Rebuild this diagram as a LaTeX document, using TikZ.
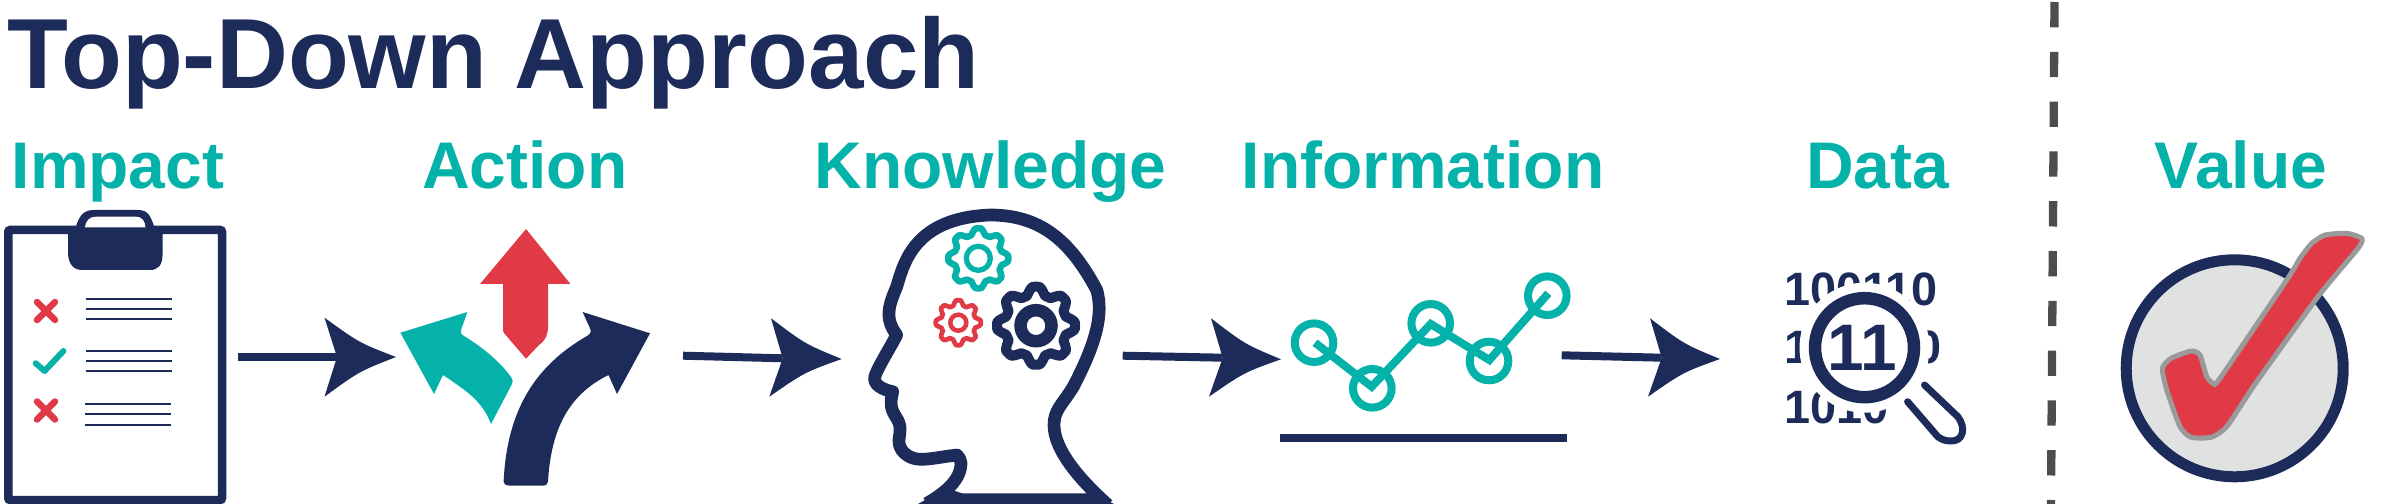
\documentclass[tikz,border=0pt]{standalone}
\usepackage{fontspec}
\setmainfont{Liberation Sans}[BoldFont={Liberation Sans Bold}]
\usetikzlibrary{calc}
\definecolor{navy}{HTML}{1D2B5A}
\definecolor{teal2}{HTML}{04B2AA}
\definecolor{red2}{HTML}{E03A47}
\definecolor{dashgray}{HTML}{4D4D4D}
\definecolor{discgray}{HTML}{E0E2E1}
\definecolor{rimgray}{HTML}{9A9A9A}
\tikzset{
  titletext/.style={anchor=base west,inner sep=0pt,text=navy,font=\fontsize{100}{110}\selectfont\bfseries},
  steplabel/.style={anchor=base west,inner sep=0pt,text=teal2,font=\fontsize{66.2}{70}\selectfont\bfseries},
  bits/.style={anchor=base west,inner sep=0pt,text=navy,font=\fontsize{47}{50}\selectfont\bfseries},
  bigbits/.style={anchor=base west,inner sep=0pt,text=navy,font=\fontsize{66}{70}\selectfont\bfseries},
  shaft/.style={draw=navy,line width=8bp},
  listline/.style={draw=navy,line width=2.2bp},
  mark red/.style={draw=red2,line width=6.5bp,line cap=round},
  headline/.style={draw=navy,line width=12.7bp,line join=round},
}
% arrow head: start, notch, tip, upper barb, lower barb named with a prefix
\newcommand{\flowarrow}[1]{%
  \draw[shaft] (#1s) -- (#1n);
  \fill[navy] (#1t) .. controls ($(#1b)!0.5!(#1t)+(-1,-5.5)$) .. (#1b) -- (#1n) -- (#1p)
    .. controls ($(#1t)!0.5!(#1p)+(-1,5.5)$) .. (#1t) -- cycle;
}
\newcommand{\gearring}[6]{% cx cy outer inner width colour
  \draw[draw=#6,line width=#5,line join=round]
    plot[domain=0:360,samples=200,variable=\t]
    ({#1+((#3+#4)/2+(#3-#4)/2*max(-1,min(1,1.35*cos(8*\t))))*cos(\t)},
     {#2+((#3+#4)/2+(#3-#4)/2*max(-1,min(1,1.35*cos(8*\t))))*sin(\t)}) -- cycle;
}
\begin{document}
\begin{tikzpicture}[x=1bp,y=-1bp]
\useasboundingbox (0,0) rectangle (2397,504);
% texts
\node[titletext] (title) at (7.5,88.3) {Top-Down Approach};
\node[steplabel] (impact) at (11.5,188.3) {Impact};
\node[steplabel] (action) at (422,188.3) {Action};
\node[steplabel] (knowledge) at (814.5,188.3) {Knowledge};
\node[steplabel] (information) at (1241.5,188.3) {Information};
\node[steplabel] (datal) at (1806,188.3) {Data};
\node[steplabel] (value) at (2154.5,188.3) {Value};

% clipboard
\draw[draw=navy,line width=8.5bp,rounded corners=2bp] (8.25,230) rectangle (222,500);
\fill[navy] (68,232) -- (162.5,232) -- (162.5,255) .. controls (162.5,265) and (158,270) .. (150,270)
  -- (82,270) .. controls (72,270) and (68,262) .. (68,252) -- cycle;
\fill[navy] (76,228) -- (76,226) .. controls (79,218) and (82,210) .. (93.7,210) -- (138.4,210)
  .. controls (149,210) and (151,218) .. (154,226) -- (154,228) -- cycle;
\fill[white] (84.8,227.3) .. controls (86,221) and (89,216.7) .. (96,216.7) -- (136,216.7)
  .. controls (142,216.7) and (145,221) .. (145.5,227.3) -- cycle;
\draw[mark red] (37,302) -- (55,320) (55,302) -- (37,320);
\draw[draw=teal2,line width=6bp,line cap=round,line join=round] (35.7,363.3) -- (44.6,371) -- (63.4,351);
\draw[mark red] (37,401.5) -- (55,419.5) (55,401.5) -- (37,419.5);
\foreach \yy in {299,308.7,319,351,360.7,371.3} \draw[listline] (86,\yy) -- (172,\yy);
\foreach \yy in {404,414,424.7} \draw[listline] (85,\yy) -- (171,\yy);

% connectors
\coordinate (as) at (237.5,357); \coordinate (an) at (337,357); \coordinate (at) at (396,357);
\coordinate (ab) at (324.5,396.7); \coordinate (ap) at (324.5,317.7);
\flowarrow{a}
\coordinate (bs) at (683,355.7); \coordinate (bn) at (782.7,358.3); \coordinate (bt) at (841.7,359);
\coordinate (bb) at (769.3,396.7); \coordinate (bp) at (771,318.3);
\flowarrow{b}
\coordinate (cs) at (1122.7,355.7); \coordinate (cn) at (1222.7,357.7); \coordinate (ct) at (1281,359.3);
\coordinate (cb) at (1209,396.7); \coordinate (cp) at (1211,318.3);
\flowarrow{c}
\coordinate (ds) at (1561.7,355.3); \coordinate (dn) at (1661.7,357.7); \coordinate (dt) at (1720,359);
\coordinate (db) at (1648,396.7); \coordinate (dp) at (1650,318.3);
\flowarrow{d}

% crossroads
\fill[red2] (526,229) -- (570.5,284) -- (548,284) -- (548,326.7) .. controls (548,336) and (544,342) .. (539,345)
  -- (526,358.7) -- (504,333) .. controls (503,332) and (503,330) .. (503,328) -- (503,284) -- (480,284) -- cycle;
\fill[teal2] (400.4,332.7) -- (467.4,312) -- (461,330) .. controls (460,333) and (461,334) .. (464,336)
  .. controls (485,349) and (500,362) .. (511,377) .. controls (513,380) and (513,382) .. (512,384)
  -- (491,424) .. controls (482,400) and (465,390) .. (443,375) -- (434,394) -- cycle;
\fill[navy] (650,333.3) -- (582.6,312) -- (590,328.3) .. controls (592,332) and (590,334) .. (587,336)
  .. controls (535,366) and (507,410) .. (503.6,481.7) .. controls (503.6,484) and (506,485.7) .. (509,485.7)
  -- (542.4,485.7) .. controls (546,485.7) and (548,484) .. (548,481.7)
  .. controls (551,430) and (568,395) .. (608.5,375) -- (617,394) -- cycle;

% head
\fill[navy] (918,504) -- (946,488) -- (962,493.3) -- (1094,493.3) -- (1114,504) -- cycle;
\draw[headline] (926.7,503.5) .. controls (945,493) and (961,480) .. (961,463) .. controls (961,460) and (959,457) .. (957,455)
  .. controls (940,457) and (930,459.5) .. (920,459.3) .. controls (908,459) and (898,450) .. (899,440)
  .. controls (900,430) and (902,427) .. (896,417) .. controls (889,407) and (891,400) .. (892.7,391.7)
  .. controls (884,390) and (872,385) .. (875,376) .. controls (878,367) and (890,348) .. (896.7,335)
  .. controls (884,318) and (889,305) .. (896.7,286.7) .. controls (904,262) and (915,218) .. (990,215)
  .. controls (1040,215) and (1070,240) .. (1096.7,290) .. controls (1104,315) and (1095,345) .. (1073.3,386.7)
  .. controls (1062,405) and (1054,410) .. (1054,425) .. controls (1054,450) and (1080,480) .. (1108,505);
\gearring{978.3}{258.3}{30}{24}{6.5bp}{teal2}
\draw[draw=teal2,line width=5.3bp] (978.3,258.3) circle[radius=12];
\gearring{958.3}{322.7}{22.5}{17.5}{4.7bp}{red2}
\draw[draw=red2,line width=4.5bp] (958.3,322.7) circle[radius=8];
\gearring{1036}{325.7}{39}{31}{10bp}{navy}
\draw[draw=navy,line width=12.5bp] (1036,325.7) circle[radius=15.5];

% chart
\draw[draw=teal2,line width=8bp] (1315,342.7) -- (1371.7,386.7) -- (1430.7,324) -- (1489.3,360) -- (1548.3,293.3);
\foreach \cx/\cy in {1314/342.7,1372.3/388.3,1430.7/323.3,1489/361,1547.3/295.7}
  \draw[draw=teal2,line width=8bp] (\cx,\cy) circle[radius=19.3];
\draw[draw=navy,line width=8bp] (1280.3,438) -- (1566.7,438);

% data
\node[bits] (rowa) at (1784,306) {100110};
\node[bits] (rowb) at (1784,363) {1};
\node[bits] (rowbb) at (1915,363) {0};
\node[bits] (rowc) at (1784,423) {1010};
\fill[white] (1864.5,347.7) circle[radius=65];
\draw[draw=navy,line width=12.5bp] (1864.5,347.7) circle[radius=49.5];
\node[bigbits] (rowd) at (1827,370) {11};
\draw[draw=navy,line width=7bp,line cap=round,line join=round] (1924.5,385) -- (1957.8,416.7)
  .. controls (1966,427) and (1964,442) .. (1950,441) .. controls (1945,441) and (1941,439) .. (1937.8,436.7) -- (1907.6,401.7);

% divider
\coordinate (dtop) at (2054.5,2); \coordinate (dbot) at (2051,504);
\draw[draw=dashgray,line width=8.3bp,dash pattern=on 25.3bp off 24.5bp] (dtop) -- (dbot);

% value
\draw[draw=navy,fill=discgray,line width=11bp] (2234.7,368.3) circle[radius=108.5];
\draw[draw=rimgray,fill=red2,line width=5bp,line join=round] plot[smooth cycle,tension=0.35] coordinates {
 (2346.7,233.3) (2325,235) (2311.7,243.3) (2300,258.3) (2286.7,280) (2220,378.3) (2213.4,383.3) (2206.7,376.7)
 (2200,355) (2191,351) (2171,358.3) (2162.3,368.3) (2166.7,390) (2180,426.7) (2191,437.3) (2211,437.3)
 (2226.7,426.7) (2255.6,383.3) (2317.9,296.7) (2358.3,248) (2361.7,238.3)};
\end{tikzpicture}
\end{document}
